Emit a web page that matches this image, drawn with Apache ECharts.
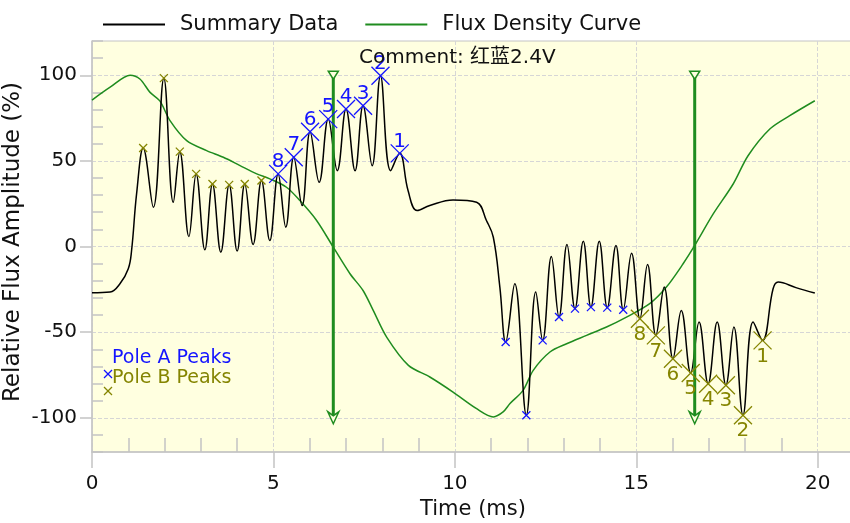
<!DOCTYPE html>
<html>
<head>
<meta charset="utf-8">
<script src="https://cdn.jsdelivr.net/npm/echarts@6/dist/echarts.min.js"></script>
<style>html,body{margin:0;padding:0;background:#fff}#c{width:850px;height:523px}</style>
</head>
<body>
<div id="c"></div>
<script>
// ---- data ----
const summaryT = [0,0.5,0.77,1.0,1.09,1.23,1.41,1.69,1.98,2.24,2.42,2.67,2.87,3.11,3.32,3.55,3.78,4.00,4.21,4.44,4.67,4.90,5.13,5.34,5.56,5.79,6.01,6.26,6.51,6.76,7.00,7.25,7.47,7.72,7.95,8.23,8.48,8.71,8.96,9.31,9.95,10.6,10.87,11.06,11.24,11.40,11.65,11.97,12.23,12.42,12.66,12.87,13.09,13.31,13.54,13.75,13.98,14.20,14.44,14.64,14.87,15.10,15.31,15.54,15.77,16.01,16.24,16.50,16.73,16.98,17.23,17.47,17.69,17.94,18.22,18.48,18.77,18.91,19.4,19.92];
const summaryV = [-27,-26.6,-21.8,-13,-2.5,31,57.5,22.9,98.3,25.8,55.4,5.8,42.4,-1.9,36.5,-3.3,36,-2.7,36.5,1.2,38.5,3.5,42.4,11.3,52.1,23.9,67,37.5,74.4,44.3,80.3,44.3,82.2,47.2,99.7,44.3,54.4,32.7,21,23.9,27.2,25.8,15.2,5.4,-23.7,-55.8,-21.8,-98.5,-26.6,-54.8,-5.8,-41.2,1.2,-36.3,3.1,-35.4,3.1,-35.7,0.6,-36.9,-3.9,-42.2,-10.5,-51.9,-23.7,-65.5,-37.3,-73.9,-44.1,-80.1,-44.1,-81,-47,-98.5,-44.1,-54.8,-24.7,-20.8,-24,-27.2];

const fluxT = [0,0.5,1.05,1.32,1.6,1.87,2.15,2.61,3.16,3.62,4.08,4.54,4.90,5.36,5.73,6.19,6.65,7.11,7.47,7.75,8.12,8.72,9.31,9.95,10.6,11.06,11.33,11.52,11.88,12.16,12.62,13.08,13.63,14.18,14.73,15.37,15.83,16.29,16.61,17.12,17.67,18.08,18.68,19.23,19.92];
const fluxV = [85.5,93,100,97.8,90,85,73.5,61.8,56,52.1,47.2,42.4,39.5,34.6,26.8,15.2,-0.4,-15.9,-25.7,-37.3,-52.9,-69.4,-76.2,-85,-94.7,-99.5,-96.6,-91.7,-84,-72.3,-61.6,-56.8,-51.9,-47,-41.2,-33.4,-23.7,-10.1,0.6,19,36.5,53,68.6,76.4,85.1];

const poleBSmallT = [1.41,1.98,2.42,2.87,3.32,3.78,4.21,4.67];
const poleBSmallV = [57.5,98.3,55.4,42.4,36.5,36,36.5,38.5];
const poleANumT = [5.13,5.56,6.01,6.51,7.00,7.47,7.95,8.48];
const poleANumV = [42.4,52.1,67,74.4,80.3,82.2,99.7,54.4];
const poleANumLabels = ['8','7','6','5','4','3','2','1'];
const poleASmallT = [11.40,11.97,12.42,12.87,13.31,13.75,14.20,14.64];
const poleASmallV = [-55.8,-98.5,-54.8,-41.2,-36.3,-35.4,-35.7,-36.9];
const poleBNumT = [15.10,15.54,16.01,16.50,16.98,17.47,17.94,18.48];
const poleBNumV = [-42.2,-51.9,-65.5,-73.9,-80.1,-81,-98.5,-54.8];
const poleBNumLabels = ['8','7','6','5','4','3','2','1'];

const arrowT = [6.65, 16.61];
const arrowTop = 100, arrowBottom = -100;

const annotationText = ['POLE A','POLE B'];
const annotationT = [9.92, 19.92];
const annotationV = [-0.6, 10.5];

const xMajorTicks = [0,5,10,15,20];
const xMinorTicks = [1,2,3,4,6,7,8,9,11,12,13,14,16,17,18,19];
const yMajorTicks = [-100,-50,0,50,100];
const yMinorTicks = [-120,-110,-90,-80,-70,-60,-40,-30,-20,-10,10,20,30,40,60,70,80,90,110,120];
const yAxisTitle = 'Relative Flux Amplitude (%)';

// ---- styles ----
const FONT = "'DejaVu Sans','Noto Sans CJK SC',sans-serif";
const BLUE = '#1414ff', OLIVE = '#858500', GREEN = '#1f8c1f', AXIS = '#c4c4c4';
const XPATH = 'path://M0,0L20,20M20,0L0,20';

const zip = (a, b) => a.map((v, i) => [v, b[i]]);

const series = [
  { name: 'Summary Data', type: 'line', data: zip(summaryT, summaryV), smooth: 0.4, symbol: 'none',
    lineStyle: { color: '#000', width: 1.5 }, itemStyle: { color: '#000' }, z: 3 },
  { name: 'Flux Density Curve', type: 'line', data: zip(fluxT, fluxV), smooth: 0.3, symbol: 'none',
    lineStyle: { color: GREEN, width: 1.5 }, itemStyle: { color: GREEN }, z: 2 }
];
arrowT.forEach(t => {
  series.push({ name: 'arrow', type: 'line', z: 4, showSymbol: true,
    lineStyle: { color: GREEN, width: 3 },
    itemStyle: { color: '#ffffe0', borderColor: GREEN, borderWidth: 1.5 },
    data: [
      { value: [t, arrowTop], symbol: 'triangle', symbolRotate: 180, symbolSize: [10, 8] },
      { value: [t, arrowBottom], symbol: 'path://M0,0L5,4L10,0L5,12Z', symbolSize: [11, 12] }
    ] });
});
function xScatter(name, t, v, color, size, labels, offY) {
  return { name, type: 'scatter', z: 5, symbol: XPATH, symbolSize: size,
    itemStyle: { color: 'transparent', borderColor: color, borderWidth: 1.3, opacity: 1 },
    label: labels ? { show: true, position: 'inside', offset: [0, offY], color, fontSize: 20, fontFamily: FONT,
      formatter: p => labels[p.dataIndex] } : { show: false },
    data: zip(t, v) };
}
series.push(xScatter('Pole B Peaks', poleBSmallT, poleBSmallV, OLIVE, 8));
series.push(xScatter('Pole A Numbered', poleANumT, poleANumV, BLUE, 18, poleANumLabels, -12));
series.push(xScatter('Pole A Peaks', poleASmallT, poleASmallV, BLUE, 8));
series.push(xScatter('Pole B Numbered', poleBNumT, poleBNumV, OLIVE, 18, poleBNumLabels, 16));
series.push({ name: 'annotations', type: 'scatter', symbol: 'none', symbolSize: 1, z: 6,
  label: { show: true, position: 'inside', fontSize: 20, fontFamily: FONT,
    formatter: p => annotationText[p.dataIndex],
    color: '#000' },
  data: annotationT.map((t, i) => ({ value: [t, annotationV[i]], label: { color: i === 0 ? BLUE : OLIVE } })) });

const chart = echarts.init(document.getElementById('c'), null, { renderer: 'canvas' });
chart.setOption({
  animation: false,
  backgroundColor: '#fff',
  textStyle: { fontFamily: FONT },
  title: { text: 'Comment: 红蓝2.4V', left: 354, top: 43,
    textStyle: { fontSize: 20, fontWeight: 'normal', color: '#111', fontFamily: FONT } },
  legend: { data: ['Summary Data', 'Flux Density Curve'], left: 98, top: 9, icon: 'rect', itemWidth: 62, itemHeight: 2,
    itemGap: 27,
    textStyle: { fontSize: 21, color: '#111', fontFamily: FONT, padding: [0, 0, 0, 10] } },
  grid: { left: 92, top: 41, width: 762, height: 411, show: true, backgroundColor: '#ffffe0',
    borderColor: AXIS, borderWidth: 1, outerBoundsMode: 'none', containLabel: false },
  xAxis: [
    { type: 'value', min: 0, max: 21, interval: 1, position: 'bottom',
      name: 'Time (ms)', nameLocation: 'middle', nameGap: 46,
      nameTextStyle: { fontSize: 21, color: '#111', fontFamily: FONT },
      axisLine: { onZero: false, lineStyle: { color: AXIS, width: 1.5 } },
      axisTick: { customValues: xMajorTicks, length: 16, lineStyle: { color: AXIS, width: 1.5 } },
      axisLabel: { customValues: xMajorTicks, fontSize: 20, color: '#111', margin: 22, fontFamily: FONT },
      splitLine: { show: true, lineStyle: { color: '#d6d6d6', type: 'dashed', width: 1 } } },
    { type: 'value', min: 0, max: 21, interval: 1, position: 'bottom',
      axisLine: { show: false, onZero: false },
      axisTick: { customValues: xMinorTicks, inside: true, length: 14, lineStyle: { color: AXIS, width: 1.5 } },
      axisLabel: { show: false }, splitLine: { show: false } }
  ],
  yAxis: [
    { type: 'value', min: -120, max: 120, interval: 10, position: 'left',
      axisLine: { show: true, onZero: false, lineStyle: { color: AXIS, width: 1.5 } },
      axisTick: { show: true, customValues: yMajorTicks, length: 12, lineStyle: { color: AXIS, width: 1.5 } },
      axisLabel: { customValues: yMajorTicks, fontSize: 20, color: '#111', margin: 15, fontFamily: FONT },
      splitLine: { show: true, lineStyle: { color: '#d6d6d6', type: 'dashed', width: 1 } } },
    { type: 'value', min: -120, max: 120, interval: 10, position: 'left',
      axisLine: { show: false, onZero: false },
      axisTick: { show: true, customValues: yMinorTicks, inside: true, length: 11, lineStyle: { color: AXIS, width: 1.5 } },
      axisLabel: { show: false }, splitLine: { show: false } }
  ],
  graphic: [
    { type: 'text', x: 13, y: 242, rotation: Math.PI / 2, z: 10,
      style: { text: yAxisTitle, fill: '#111', fontSize: 23, fontFamily: FONT, align: 'center', verticalAlign: 'middle' } },
    { type: 'text', left: 112, top: 349, z: 10, style: { text: 'Pole A Peaks', fill: BLUE, fontSize: 19, fontFamily: FONT } },
    { type: 'text', left: 112, top: 369, z: 10, style: { text: 'Pole B Peaks', fill: OLIVE, fontSize: 19, fontFamily: FONT } },
    { type: 'line', z: 10, shape: { x1: 104, y1: 370, x2: 112, y2: 378 }, style: { stroke: BLUE, lineWidth: 1.3 } },
    { type: 'line', z: 10, shape: { x1: 112, y1: 370, x2: 104, y2: 378 }, style: { stroke: BLUE, lineWidth: 1.3 } },
    { type: 'line', z: 10, shape: { x1: 104, y1: 387, x2: 112, y2: 395 }, style: { stroke: OLIVE, lineWidth: 1.3 } },
    { type: 'line', z: 10, shape: { x1: 112, y1: 387, x2: 104, y2: 395 }, style: { stroke: OLIVE, lineWidth: 1.3 } }
  ],
  series
});
</script>
</body>
</html>
